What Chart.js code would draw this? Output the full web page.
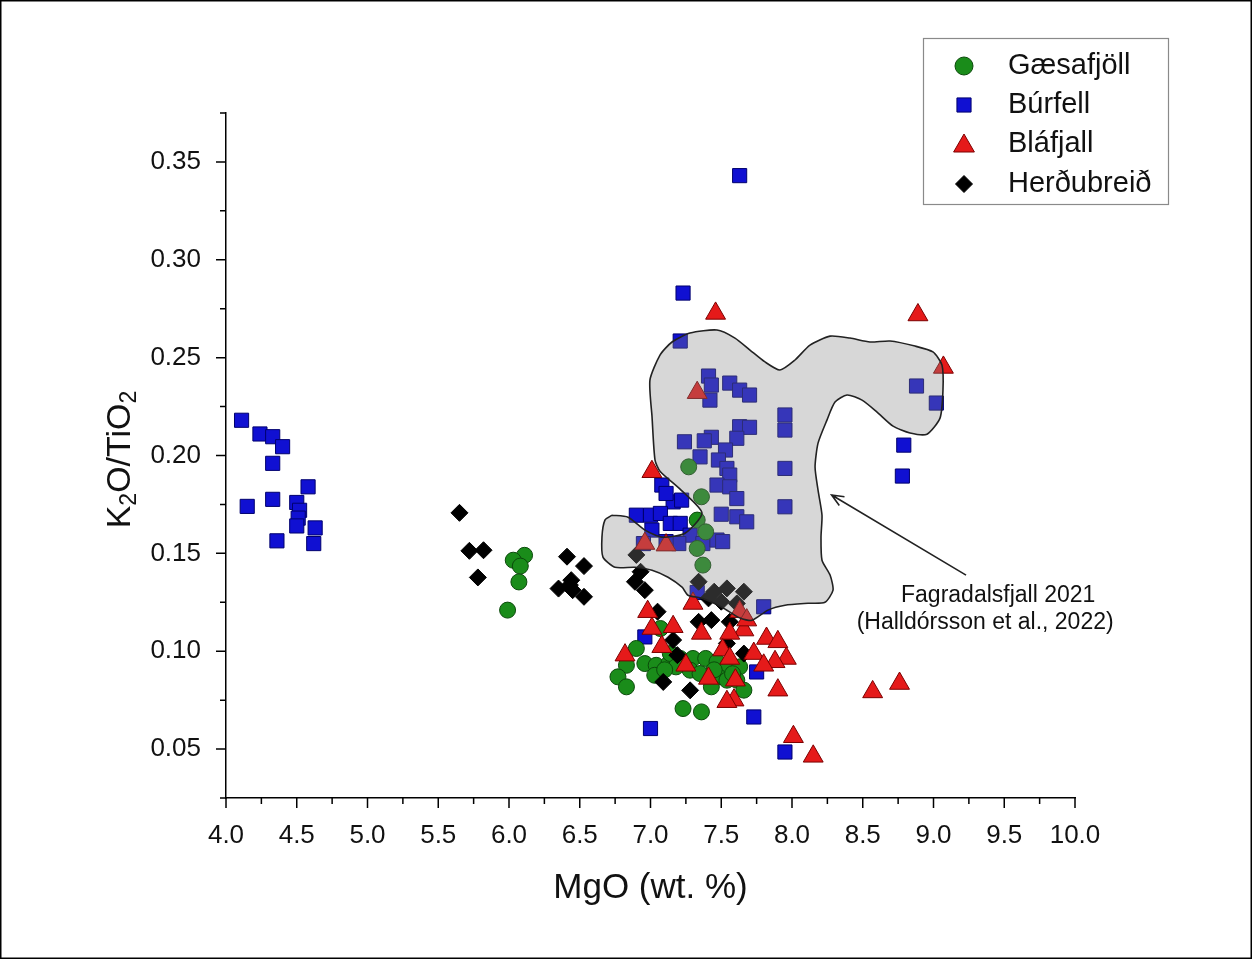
<!DOCTYPE html>
<html>
<head>
<meta charset="utf-8">
<title>K2O/TiO2 vs MgO</title>
<script src="https://cdn.jsdelivr.net/npm/chart.js@4.4.1/dist/chart.umd.min.js"></script>
<style>
  html, body { margin: 0; padding: 0; background: #fff; }
  #wrap { width: 1252px; height: 959px; }
</style>
</head>
<body>
<div id="wrap"><canvas id="mgoChart" width="1252" height="959"></canvas></div>
<script>
// axis ticks
const xTicks = [4.0, 4.5, 5.0, 5.5, 6.0, 6.5, 7.0, 7.5, 8.0, 8.5, 9.0, 9.5, 10.0];
const xMinor = [4.25, 4.75, 5.25, 5.75, 6.25, 6.75, 7.25, 7.75, 8.25, 8.75, 9.25, 9.75];
const yTicks = [0.05, 0.10, 0.15, 0.20, 0.25, 0.30, 0.35];
const yMinor = [0.025, 0.075, 0.125, 0.175, 0.225, 0.275, 0.325, 0.375];

// Gæsafjöll
const gaesMgO = [6.11, 6.03, 6.08, 6.07, 5.99, 7.27, 7.36, 7.33, 7.39, 7.33, 7.37, 6.90, 6.83, 6.77, 6.83, 6.96, 7.04, 7.03,
  7.13, 7.21, 7.30, 7.39, 7.47, 7.55, 7.63, 7.28, 7.35, 7.48, 7.54, 7.61, 7.66, 7.43, 7.23, 7.36, 7.07, 7.14, 7.18, 7.10, 7.45, 7.58];
const gaesRatio = [0.149, 0.1465, 0.1435, 0.1354, 0.121, 0.1942, 0.1789, 0.167, 0.161, 0.1525, 0.144, 0.1014, 0.0928, 0.0869, 0.0818, 0.0937, 0.0928, 0.0877,
  0.0937, 0.0963, 0.0963, 0.0963, 0.0946, 0.0928, 0.092, 0.0903, 0.0886, 0.0869, 0.0852, 0.0852, 0.0801, 0.0818, 0.0707, 0.069, 0.1116, 0.0988, 0.092, 0.0905, 0.0905, 0.0885];

// Búrfell
const burMgO = [4.11, 4.24, 4.33, 4.40, 4.33, 4.15, 4.33, 4.58, 4.50, 4.52, 4.51, 4.50, 4.63, 4.36, 4.62,
  7.63, 7.23, 7.21,
  7.41, 7.43, 7.42, 7.56, 7.63, 7.70, 7.95, 7.95, 7.63, 7.70, 7.61, 7.43, 7.24, 7.38, 7.53, 7.35, 7.48, 7.54, 7.56, 7.95,
  7.47, 7.56, 7.61, 7.95, 7.50, 7.61, 7.68, 7.08, 7.16, 7.22, 7.11, 6.90, 7.00, 7.07, 7.14, 7.21, 7.01, 7.28, 7.37, 7.47,
  7.51, 7.20, 7.11, 6.95,
  8.88, 9.02, 8.79, 8.78,
  7.80, 6.96, 7.75, 7.73, 7.00, 7.95, 7.33];
const burRatio = [0.218, 0.211, 0.2096, 0.2045, 0.196, 0.174, 0.1776, 0.184, 0.176, 0.172, 0.168, 0.164, 0.163, 0.1564, 0.155,
  0.343, 0.283, 0.2585,
  0.2406, 0.236, 0.2283, 0.237, 0.2334, 0.2309, 0.2207, 0.213, 0.2147, 0.2144, 0.2088, 0.2093, 0.207, 0.2075, 0.2028, 0.1993, 0.1977, 0.1934, 0.190, 0.1934,
  0.1849, 0.184, 0.178, 0.1738, 0.170, 0.1687, 0.1661, 0.1849, 0.1763, 0.1772, 0.1806, 0.1695, 0.1695, 0.1704, 0.1653, 0.1653, 0.1619, 0.1593, 0.155, 0.1568,
  0.156, 0.155, 0.156, 0.155,
  0.2355, 0.2268, 0.2053, 0.1895,
  0.1227, 0.1073, 0.0894, 0.0664, 0.0605, 0.0485, 0.130];

// Bláfjall
const blaMgO = [7.46, 7.33, 7.01, 8.89, 9.07, 6.96, 7.11, 7.30, 6.98, 7.01, 7.16, 7.36, 7.08, 6.82, 7.25, 7.41, 7.60, 7.59,
  7.54, 7.66, 7.56, 7.51, 7.56, 7.73, 7.82, 7.90, 7.96, 7.88, 7.80, 7.90, 8.01, 7.63, 7.68, 8.57, 8.76, 8.15];
const blaRatio = [0.2726, 0.2321, 0.1917, 0.2718, 0.245, 0.155, 0.1542, 0.1244, 0.1202, 0.1116, 0.1125, 0.1091, 0.1023, 0.098, 0.0928, 0.0861, 0.0852, 0.075,
  0.0742, 0.1108, 0.1091, 0.1006, 0.0963, 0.0988, 0.1065, 0.1048, 0.0963, 0.0946, 0.0928, 0.0801, 0.0563, 0.1202, 0.1159, 0.0792, 0.0835, 0.0463];

// Herðubreið
const herMgO = [5.65, 5.72, 5.82, 5.78, 6.41, 6.53, 6.44, 6.35, 6.45, 6.53, 6.43, 6.90, 6.93, 6.89, 6.96, 7.34, 7.45, 7.54,
  7.66, 7.50, 7.61, 7.05, 7.34, 7.43, 7.56, 7.16, 7.54, 7.66, 7.19, 7.09, 7.28, 7.41];
const herRatio = [0.1707, 0.1513, 0.1516, 0.1377, 0.1483, 0.1435, 0.1363, 0.132, 0.1312, 0.1278, 0.1338, 0.1492, 0.1406, 0.1355, 0.1312, 0.1355, 0.1304, 0.1321,
  0.1304, 0.1253, 0.1244, 0.1202, 0.115, 0.1159, 0.115, 0.1057, 0.104, 0.0988, 0.098, 0.0843, 0.080, 0.127];

// Fagradalsfjall 2021 field outline
const fieldMgO = [6.728, 6.841, 6.961, 7.081, 7.244, 7.364, 7.216, 7.067, 7.032, 7.011, 6.996, 7.067, 7.152, 7.279, 7.470, 7.597,
  7.703, 7.809, 7.915, 8.021, 8.127, 8.269, 8.410, 8.551, 8.693, 8.869, 8.996, 9.060, 9.067, 9.046, 8.954, 8.834, 8.714, 8.601,
  8.495, 8.389, 8.304, 8.247, 8.184, 8.163, 8.184, 8.212, 8.205, 8.212, 8.269, 8.290, 8.233, 8.113, 7.951, 7.830, 7.717, 7.633,
  7.505, 7.364, 7.265, 7.223, 7.124, 7.011, 6.890, 6.749, 6.664, 6.657, 6.678, 6.728];
const fieldRatio = [0.1695, 0.1685, 0.1619, 0.1583, 0.1603, 0.1706, 0.1823, 0.1920, 0.1976, 0.2196, 0.2385, 0.2513, 0.258, 0.2626, 0.2641, 0.260,
  0.2539, 0.2478, 0.2437, 0.2488, 0.2564, 0.261, 0.260, 0.258, 0.2585, 0.2559, 0.2529, 0.2462, 0.2334, 0.2191, 0.2109, 0.2115, 0.215, 0.2222,
  0.2283, 0.2309, 0.2273, 0.2181, 0.2063, 0.1941, 0.1823, 0.1695, 0.1583, 0.1465, 0.1389, 0.1312, 0.125, 0.1245, 0.1235, 0.121, 0.1158, 0.1169,
  0.1225, 0.1271, 0.1286, 0.1327, 0.1378, 0.1414, 0.1429, 0.1429, 0.1481, 0.1583, 0.167, 0.1695];

const noteLines = ['Fagradalsfjall 2021', '(Halldórsson et al., 2022)'];
const noteAt = { x: 9.45, y: 0.121 };
const arrowFrom = { x: 9.23, y: 0.1389 };
const arrowTo = { x: 8.28, y: 0.1798 };

const FONT = '"Liberation Sans", Arial, Helvetica, sans-serif';

const toPoints = (xs, ys) => xs.map((x, i) => ({ x: x, y: ys[i] }));

const series = [
  { label: 'Gæsafjöll', data: toPoints(gaesMgO, gaesRatio), pointStyle: 'circle', pointRadius: 8,
    backgroundColor: '#1a8c1a', borderColor: '#0b4a0b', borderWidth: 1, order: 3 },
  { label: 'Búrfell', data: toPoints(burMgO, burRatio), pointStyle: 'rect', pointRadius: 10,
    backgroundColor: '#1010d2', borderColor: '#00006e', borderWidth: 1, order: 4 },
  { label: 'Bláfjall', data: toPoints(blaMgO, blaRatio), pointStyle: 'triangle', pointRadius: 11.5,
    backgroundColor: '#e51a1a', borderColor: '#7c0000', borderWidth: 1, order: 1 },
  { label: 'Herðubreið', data: toPoints(herMgO, herRatio), pointStyle: 'rectRot', pointRadius: 8.5,
    backgroundColor: '#000000', borderColor: '#000000', borderWidth: 1, order: 2 }
];

const legendMarkerSize = { circle: 9, rect: 10, triangle: 12, rectRot: 8.5 };

const extrasPlugin = {
  id: 'extras',
  afterDraw(chart) {
    const c = chart.ctx;
    const area = chart.chartArea;
    const xs = chart.scales.x;
    const ys = chart.scales.y;
    c.save();

    // tick marks, pointing out
    c.strokeStyle = '#000';
    c.lineWidth = 1.5;
    c.beginPath();
    xTicks.forEach(v => { const p = xs.getPixelForValue(v); c.moveTo(p, area.bottom); c.lineTo(p, area.bottom + 10); });
    xMinor.forEach(v => { const p = xs.getPixelForValue(v); c.moveTo(p, area.bottom); c.lineTo(p, area.bottom + 6); });
    yTicks.forEach(v => { const p = ys.getPixelForValue(v); c.moveTo(area.left, p); c.lineTo(area.left - 10, p); });
    yMinor.forEach(v => { const p = ys.getPixelForValue(v); c.moveTo(area.left, p); c.lineTo(area.left - 6, p); });
    c.stroke();

    // x title
    c.fillStyle = '#111';
    c.font = '35px ' + FONT;
    c.textAlign = 'center';
    c.textBaseline = 'middle';
    c.fillText('MgO (wt. %)', (area.left + area.right) / 2, 888);

    // y title with subscripts
    const parts = [['K', 0], ['2', 1], ['O/TiO', 0], ['2', 1]];
    const big = '34px ' + FONT, small = '23px ' + FONT;
    let total = 0;
    parts.forEach(p => { c.font = p[1] ? small : big; total += c.measureText(p[0]).width; });
    c.translate(118, (area.top + area.bottom) / 2 + 4);
    c.rotate(-Math.PI / 2);
    c.textAlign = 'left';
    c.textBaseline = 'alphabetic';
    let pos = -total / 2;
    parts.forEach(p => {
      c.font = p[1] ? small : big;
      c.fillText(p[0], pos, p[1] ? 18 : 12);
      pos += c.measureText(p[0]).width;
    });
    c.setTransform(1, 0, 0, 1, 0, 0);

    // note and arrow
    const ax = xs.getPixelForValue(arrowFrom.x), ay = ys.getPixelForValue(arrowFrom.y);
    const bx = xs.getPixelForValue(arrowTo.x), by = ys.getPixelForValue(arrowTo.y);
    c.strokeStyle = '#222';
    c.lineWidth = 1.6;
    c.beginPath();
    c.moveTo(ax, ay);
    c.lineTo(bx, by);
    const ang = Math.atan2(by - ay, bx - ax);
    c.moveTo(bx - 13 * Math.cos(ang - 0.4), by - 13 * Math.sin(ang - 0.4));
    c.lineTo(bx, by);
    c.lineTo(bx - 13 * Math.cos(ang + 0.4), by - 13 * Math.sin(ang + 0.4));
    c.stroke();

    c.fillStyle = '#111';
    c.font = '23px ' + FONT;
    c.textAlign = 'center';
    c.textBaseline = 'middle';
    const nx = xs.getPixelForValue(noteAt.x), ny = ys.getPixelForValue(noteAt.y);
    c.fillText(noteLines[0], nx + 1, ny - 14);
    c.fillText(noteLines[1], nx - 12, ny + 13);

    // legend box
    c.strokeStyle = '#8a8a8a';
    c.lineWidth = 1.2;
    c.strokeRect(923.5, 38.5, 245, 166);
    c.font = '29px ' + FONT;
    c.textAlign = 'left';
    const rows = [66, 105, 144, 184];
    series.forEach((s, i) => {
      c.fillStyle = s.backgroundColor;
      c.strokeStyle = s.borderColor;
      c.lineWidth = 1;
      Chart.helpers.drawPoint(c, { pointStyle: s.pointStyle, radius: legendMarkerSize[s.pointStyle], rotation: 0, borderWidth: 1 }, 964, rows[i] + (s.pointStyle === 'triangle' ? 2 : 0));
      c.fillStyle = '#111';
      c.fillText(s.label, 1008, rows[i]);
    });

    // picture frame
    c.strokeStyle = '#000';
    c.lineWidth = 1.5;
    c.strokeRect(0.75, 0.75, 1250.5, 957.5);
    c.restore();
  }
};

const ctx = document.getElementById('mgoChart').getContext('2d');

const mgoChart = new Chart(ctx, {
  type: 'scatter',
  data: {
    datasets: series.concat([{
      type: 'line',
      label: 'Fagradalsfjall 2021',
      data: toPoints(fieldMgO, fieldRatio),
      borderColor: '#222',
      borderWidth: 1.6,
      backgroundColor: 'rgba(135,135,135,0.33)',
      fill: 'shape',
      tension: 0.22,
      pointRadius: 0,
      order: 0
    }])
  },
  options: {
    responsive: false,
    animation: false,
    layout: { padding: { left: 0, top: 113, right: 177, bottom: 0 } },
    plugins: {
      legend: { display: false },
      tooltip: { enabled: false }
    },
    scales: {
      x: {
        type: 'linear',
        min: 4.0,
        max: 10.0,
        grid: { display: false },
        border: { display: true, color: '#000', width: 1.5 },
        ticks: {
          color: '#111',
          padding: 14,
          font: { family: FONT, size: 26 },
          callback: v => Number(v).toFixed(1)
        },
        afterBuildTicks: scale => { scale.ticks = xTicks.map(v => ({ value: v })); },
        afterFit: scale => { scale.height = 161; }
      },
      y: {
        type: 'linear',
        min: 0.025,
        max: 0.375,
        grid: { display: false },
        border: { display: true, color: '#000', width: 1.5 },
        ticks: {
          color: '#111',
          padding: 17,
          font: { family: FONT, size: 26 },
          callback: v => Number(v).toFixed(2)
        },
        afterBuildTicks: scale => { scale.ticks = yTicks.map(v => ({ value: v })); },
        afterFit: scale => { scale.width = 226; }
      }
    }
  },
  plugins: [extrasPlugin]
});
</script>
</body>
</html>
